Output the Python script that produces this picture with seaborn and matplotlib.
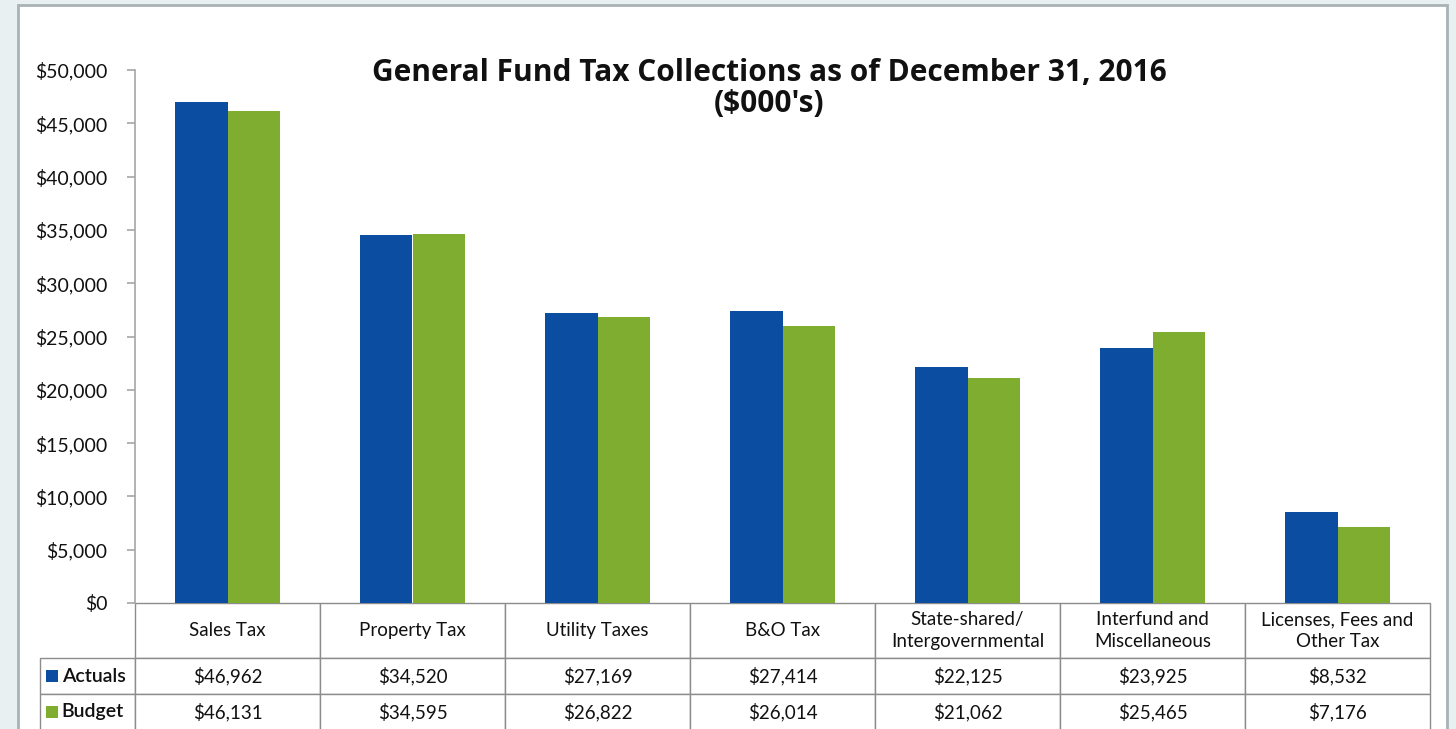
import matplotlib
matplotlib.use("Agg")
import matplotlib.pyplot as plt
import seaborn as sns
import pandas as pd
from matplotlib.patches import Rectangle

categories = ['Sales Tax', 'Property Tax', 'Utility Taxes', 'B&O Tax',
              'State-shared/\nIntergovernmental', 'Interfund and\nMiscellaneous',
              'Licenses, Fees and\nOther Tax']
actuals = [46962, 34520, 27169, 27414, 22125, 23925, 8532]
budget = [46131, 34595, 26822, 26014, 21062, 25465, 7176]
series_names = ['Actuals', 'Budget']
yticks = list(range(0, 50001, 5000))

BLUE = '#0B4DA1'
GREEN = '#7FAD2F'

sns.set_theme(style='white')
plt.rcParams['font.family'] = ['Lato', 'DejaVu Sans']

df = pd.DataFrame({
    'category': categories * 2,
    'value': actuals + budget,
    'series': [series_names[0]] * len(categories) + [series_names[1]] * len(categories),
})

W, H = 1456, 729
fig = plt.figure(figsize=(W / 100, H / 100), dpi=100)
fig.patch.set_facecolor('#E9F0F1')
fig.patches.append(Rectangle((18 / W, -0.02), (1447 - 18) / W, 1 - 5 / H + 0.02,
                             transform=fig.transFigure, facecolor='white',
                             edgecolor='#A9B3B5', linewidth=2, zorder=-10))

ax_l, ax_r, ax_t, ax_b = 135, 1430, 70, 603
ax = fig.add_axes([ax_l / W, 1 - ax_b / H, (ax_r - ax_l) / W, (ax_b - ax_t) / H])
ax.patch.set_alpha(0)

sns.barplot(data=df, x='category', y='value', hue='series', order=categories,
            hue_order=series_names, palette=[BLUE, GREEN], width=0.57,
            saturation=1, linewidth=0, edgecolor='none', ax=ax, legend=False)

ax.set_xlim(-0.5, len(categories) - 0.5)
ax.set_ylim(0, 50000)
ax.set_yticks(yticks)
ax.set_yticklabels([f'${v:,}' for v in yticks], fontsize=14)
ax.set_xticks([])
ax.set_xlabel('')
ax.set_ylabel('')
for s in ['top', 'right', 'bottom']:
    ax.spines[s].set_visible(False)
ax.spines['left'].set_color('#A6A6A6')
ax.spines['left'].set_linewidth(1.2)
ax.tick_params(axis='y', which='major', left=True, length=6, width=1.2,
               color='#A6A6A6', pad=14, labelcolor='#111111')

# data table
axw, axh = ax_r - ax_l, ax_b - ax_t
lab_w, col_w = 95, axw / len(categories)
hdr_h, row_h = 55, 36
tot_w = lab_w + axw
tot_h = hdr_h + 2 * row_h
cell_text = [[''] + categories,
             [series_names[0]] + [f'${v:,}' for v in actuals],
             [series_names[1]] + [f'${v:,}' for v in budget]]
tbl = ax.table(cellText=cell_text,
               colWidths=[lab_w / tot_w] + [col_w / tot_w] * len(categories),
               cellLoc='center',
               bbox=[-lab_w / axw, -tot_h / axh, tot_w / axw, tot_h / axh])
tbl.auto_set_font_size(False)
for (r, c), cell in tbl.get_celld().items():
    cell.set_edgecolor('#8C8C8C')
    cell.set_linewidth(1.0)
    cell.set_height(hdr_h if r == 0 else row_h)
    cell.get_text().set_fontsize(13.5)
    cell.get_text().set_color('#111111')
    cell.get_text().set_linespacing(1.35)
    if r == 0 and c == 0:
        cell.visible_edges = ''
    if c == 0 and r > 0:
        cell.get_text().set_ha('left')
        cell._loc = 'left'
        cell.PAD = 0.23
        cell.get_text().set_fontsize(14)
        cell.get_text().set_fontweight('semibold')

# legend keys in table
for i, col in enumerate([BLUE, GREEN]):
    yc = -(hdr_h + row_h * i + row_h / 2) / axh
    ax.add_patch(Rectangle((-(135 - 46) / axw, yc - 6 / axh), 12 / axw, 12 / axh,
                           transform=ax.transAxes, facecolor=col, edgecolor='none',
                           clip_on=False))

title_font = ['Open Sans', 'DejaVu Sans']
fig.text(769 / W, 1 - 73 / H, "General Fund Tax Collections as of December 31, 2016",
         ha='center', va='center', fontsize=21.5, fontweight='bold', color='#111111',
         family=title_font)
fig.text(769 / W, 1 - 104 / H, "($000's)",
         ha='center', va='center', fontsize=21.5, fontweight='bold', color='#111111',
         family=title_font)

fig.savefig('out.png', dpi=100)
